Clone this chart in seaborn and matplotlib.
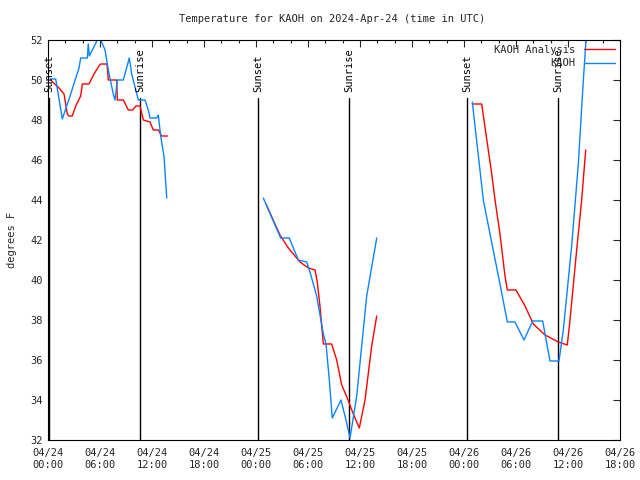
import numpy as np
import pandas as pd
import matplotlib
matplotlib.use("Agg")
import matplotlib.pyplot as plt
import matplotlib.dates as mdates
from matplotlib.lines import Line2D
import seaborn as sns

# ---- data (hours since 2024-04-24 00:00 UTC, temperature in F) ----
obs_seg1_h = [0.23, 0.89, 1.65, 2.62, 3.2, 3.58, 3.77, 4.53, 4.65, 4.77, 5.23, 5.69, 6.0, 6.58,
              6.96, 7.15, 7.53, 7.73, 8.0, 8.69, 9.38, 9.66, 10.42, 11.19, 11.57, 11.77, 12.54,
              12.73, 13.0, 13.38, 13.7]
obs_seg1_t = [50.05, 50.05, 48.05, 49.3, 50.1, 50.6, 51.1, 51.1, 51.8, 51.2, 51.6, 52.0, 52.1, 51.5,
              50.5, 50.1, 49.3, 49.0, 50.0, 50.0, 51.1, 50.3, 49.0, 49.0, 48.5, 48.1, 48.1,
              48.25, 47.2, 46.2, 44.1]
obs_seg2_h = [24.84, 26.85, 27.84, 28.88, 29.85, 30.23, 31.0, 31.77, 32.08, 32.46, 32.8, 33.81,
              34.38, 34.85, 35.62, 36.77, 37.93]
obs_seg2_t = [44.1, 42.1, 42.1, 41.0, 40.9, 40.4, 39.2, 37.3, 36.8, 35.0, 33.1, 34.0,
              33.0, 32.1, 34.2, 39.2, 42.1]
obs_seg3_h = [48.96, 50.23, 51.0, 52.15, 53.0, 53.88, 54.92, 55.93, 57.08, 57.92, 58.96, 59.46,
              60.42, 61.19, 61.77, 62.13]
obs_seg3_t = [48.9, 44.0, 42.3, 39.8, 37.9, 37.9, 37.0, 37.95, 37.95, 35.95, 35.95, 37.5,
              41.7, 45.8, 50.0, 52.3]

ana_seg1_h = [0.3, 1.27, 1.85, 2.23, 2.42, 2.8, 3.2, 3.77, 3.96, 4.73, 5.31, 5.88, 6.08, 6.81,
              6.96, 7.93, 8.0, 8.69, 9.27, 9.77, 10.15, 10.62, 11.0, 11.77, 12.15, 12.73, 13.12, 13.81]
ana_seg1_t = [50.0, 49.6, 49.3, 48.3, 48.2, 48.2, 48.7, 49.2, 49.8, 49.8, 50.3, 50.7, 50.8, 50.8,
              50.0, 50.0, 49.0, 49.0, 48.5, 48.5, 48.7, 48.7, 48.0, 47.9, 47.5, 47.5, 47.2, 47.2]
ana_seg2_h = [25.15, 26.77, 27.73, 29.08, 30.04, 30.81, 31.07, 31.38, 31.77, 32.73, 33.31, 33.89,
              34.53, 35.23, 35.92, 36.58, 37.35, 37.93]
ana_seg2_t = [43.8, 42.25, 41.6, 40.9, 40.6, 40.5, 39.9, 38.7, 36.8, 36.8, 36.0, 34.75,
              34.1, 33.3, 32.6, 34.0, 36.7, 38.2]
ana_seg3_h = [48.96, 50.04, 51.2, 51.58, 52.15, 52.73, 53.0, 54.0, 55.04, 56.0, 57.35, 58.88,
              59.92, 60.23, 61.0, 61.58, 62.04]
ana_seg3_t = [48.8, 48.8, 45.3, 44.0, 42.3, 40.2, 39.5, 39.5, 38.7, 37.8, 37.25, 36.9,
              36.75, 38.0, 41.5, 44.0, 46.5]

sun_events_h = [0.12, 10.62, 24.27, 34.77, 48.38, 58.88]
sun_events_lbl = ["Sunset", "Sunrise", "Sunset", "Sunrise", "Sunset", "Sunrise"]

series_names = ["KAOH Analysis", "KAOH"]
series_colors = ["#ff0000", "#0a84ff"]
title = "Temperature for KAOH on 2024-Apr-24 (time in UTC)"
ylabel = "degrees F"

# ---- build table ----
t0 = pd.Timestamp("2024-04-24 00:00")
rows = []
for name, segs in [("KAOH Analysis", [(ana_seg1_h, ana_seg1_t), (ana_seg2_h, ana_seg2_t), (ana_seg3_h, ana_seg3_t)]),
                   ("KAOH", [(obs_seg1_h, obs_seg1_t), (obs_seg2_h, obs_seg2_t), (obs_seg3_h, obs_seg3_t)])]:
    for i, (hs, ts) in enumerate(segs):
        for h, t in zip(hs, ts):
            rows.append({"time": t0 + pd.Timedelta(hours=h), "temp": t, "series": name, "seg": f"{name}-{i}"})
df = pd.DataFrame(rows)

sns.set_style("white")
plt.rcParams["font.family"] = ["DejaVu Sans Mono"]

fig = plt.figure(figsize=(6.4, 4.8), dpi=100)
ax = fig.add_axes([48/640, 40/480, 572/640, 400/480])

sns.lineplot(data=df, x="time", y="temp", hue="series", units="seg", estimator=None,
             palette=dict(zip(series_names, series_colors)), hue_order=series_names,
             linewidth=1.0, ax=ax, legend=False, sort=False)

# sunrise / sunset markers
for h, lbl in zip(sun_events_h, sun_events_lbl):
    xt = t0 + pd.Timedelta(hours=h)
    ax.plot([xt, xt], [32, 49.1], color="black", lw=1.0, zorder=1)
    ax.text(xt, 49.4, lbl, rotation=90, ha="center", va="bottom", fontsize=7.5, color="black")

ax.set_xlim(t0, t0 + pd.Timedelta(hours=66))
ax.set_ylim(32, 52)
ax.set_yticks(np.arange(32, 53, 2))
ax.xaxis.set_major_locator(mdates.HourLocator(byhour=range(0, 24, 6)))
ax.xaxis.set_minor_locator(mdates.HourLocator(byhour=range(0, 24, 2)))
ax.xaxis.set_major_formatter(mdates.DateFormatter("%m/%d\n%H:%M"))
ax.tick_params(axis="both", which="major", direction="in", length=5, width=0.8,
               top=True, right=True, labelsize=7.5, pad=6)
ax.tick_params(axis="both", which="minor", direction="in", length=2.5, width=0.8, top=True, right=True)
ax.tick_params(axis="y", which="major", pad=4)
for sp in ax.spines.values():
    sp.set_linewidth(0.8)
    sp.set_color("black")
    sp.set_visible(True)

ax.set_xlabel("")
ax.set_ylabel(ylabel, fontsize=7.5, labelpad=9)
fig.text(332/640, 1 - 19/480, title, ha="center", va="center", fontsize=7.5)

handles = [Line2D([], [], color=c, lw=1.0) for c in series_colors]
leg = ax.legend(handles, series_names, loc="upper right", bbox_to_anchor=(1.0, 1.0),
                frameon=False, markerfirst=False, fontsize=7.5, handlelength=3.0,
                handletextpad=0.8, labelspacing=0.35, borderaxespad=0.2, borderpad=0.25)

fig.savefig("out.png", dpi=100)
